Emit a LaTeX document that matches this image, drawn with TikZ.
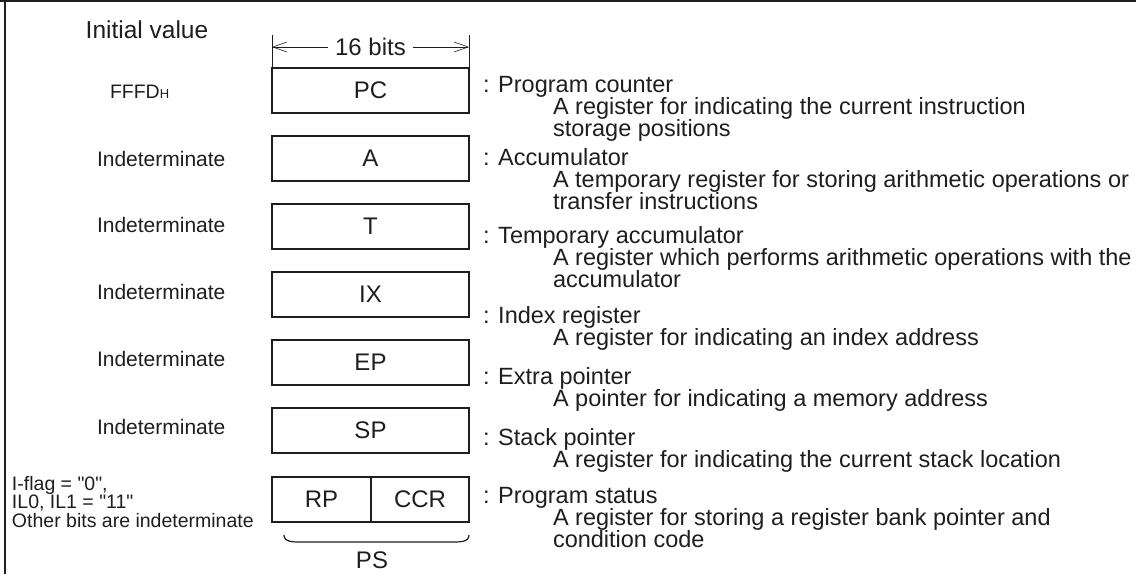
\documentclass[tikz,border=0pt]{standalone}
\usepackage{fontspec}
\setmainfont{Liberation Sans}
\usepackage{tikz}
\usetikzlibrary{positioning, arrows.meta, calc}
\definecolor{ink}{HTML}{1E1E1E}

\begin{document}
\begin{tikzpicture}[x=1pt, y=-1pt,
      every node/.style={inner sep=0pt, outer sep=0pt, text=ink},
      reg/.style={draw=ink, line width=1.6pt, minimum width=197pt,
        minimum height=45pt, font=\fontsize{24}{24}\selectfont},
      init/.style={anchor=west, font=\fontsize{21}{21}\selectfont},
      info/.style={anchor=north west, align=left,
        font=\fontsize{23.5}{22}\selectfont},
      dim/.style={draw=ink, line width=0.6pt}]

    \useasboundingbox (0,0) rectangle (1136,574);
    \draw[ink, line width=1.5pt] (0,1) -- (1136,1);
    \draw[ink, line width=1.2pt] (5,1) -- (5,574);

    \node[font=\fontsize{24.5}{24}\selectfont] (head) at (147,30) {Initial value};

    % register boxes
    \node[reg] (pc) at (370.5,90.5) {PC};
    \node[reg] (a)  at (370.5,158.5) {A};
    \node[reg] (t)  at (370.5,226.5) {T};
    \node[reg] (ix) at (370.5,294.5) {IX};
    \node[reg] (ep) at (370.5,362.5) {EP};
    \node[reg] (sp) at (370.5,430.5) {SP};
    \node[reg, minimum width=99pt] (rp) at (321.5,499.5) {RP};
    \node[reg, minimum width=98pt, right=0pt of rp] (ccr) {CCR};

    % 16 bits width
    \node[font=\fontsize{24}{24}\selectfont, inner xsep=7pt] (bits) at (370.5,47) {16 bits};
    \draw[dim] (pc.north west) -- ++(0,-33) coordinate (wl0);
    \draw[dim] (pc.north east) -- ++(0,-33) coordinate (wr0);
    \coordinate (wl) at (pc.west |- bits);
    \coordinate (wr) at (pc.east |- bits);
    \draw[dim, -{Straight Barb[length=14pt, width=10pt, line width=0.6pt]}] (bits) -- (wl);
    \draw[dim, -{Straight Barb[length=14pt, width=10pt, line width=0.6pt]}] (bits) -- (wr);

    % PS brace
    \draw[ink, line width=1.2pt] ($(rp.south west)+(12,13)$) to[out=-90, in=180] ++(18,7)
      -- ($(ccr.south east)+(-18,20)$) to[out=0, in=-90] ++(18,-7);
    \node[font=\fontsize{24}{24}\selectfont] (ps) at (372,560) {PS};

    % initial values
    \node[init, font=\fontsize{19.5}{20}\selectfont] (vpc) at (110,92)
      {FFFD{\fontsize{13}{13}\selectfont H}};
    \node[init] (va)  at (97,159) {Indeterminate};
    \node[init] (vt)  at (97,225) {Indeterminate};
    \node[init] (vix) at (97,292) {Indeterminate};
    \node[init] (vep) at (97,359) {Indeterminate};
    \node[init] (vsp) at (97,427) {Indeterminate};
    \node[anchor=north west, align=left, font=\fontsize{19.5}{18.5}\selectfont]
      (vps) at (12,476) {I-flag = \textquotedbl0\textquotedbl,\\
      IL0, IL1 = \textquotedbl11\textquotedbl\\Other bits are indeterminate};

    % descriptions
    \node[info] (ipc) at (483,76) {: Program counter\\
      \hspace*{70pt}A register for indicating the current instruction\\
      \hspace*{70pt}storage positions};
    \node[info] (ia) at (483,148) {: Accumulator\\
      \hspace*{70pt}A temporary register for storing arithmetic operations or\\
      \hspace*{70pt}transfer instructions};
    \node[info] (it) at (483,226) {: Temporary accumulator\\
      \hspace*{70pt}A register which performs arithmetic operations with the\\
      \hspace*{70pt}accumulator};
    \node[info] (iix) at (483,306) {: Index register\\
      \hspace*{70pt}A register for indicating an index address};
    \node[info] (iep) at (483,367) {: Extra pointer\\
      \hspace*{70pt}A pointer for indicating a memory address};
    \node[info] (isp) at (483,428) {: Stack pointer\\
      \hspace*{70pt}A register for indicating the current stack location};
    \node[info] (ips) at (483,487) {: Program status\\
      \hspace*{70pt}A register for storing a register bank pointer and\\
      \hspace*{70pt}condition code};
  \end{tikzpicture}
\end{document}
